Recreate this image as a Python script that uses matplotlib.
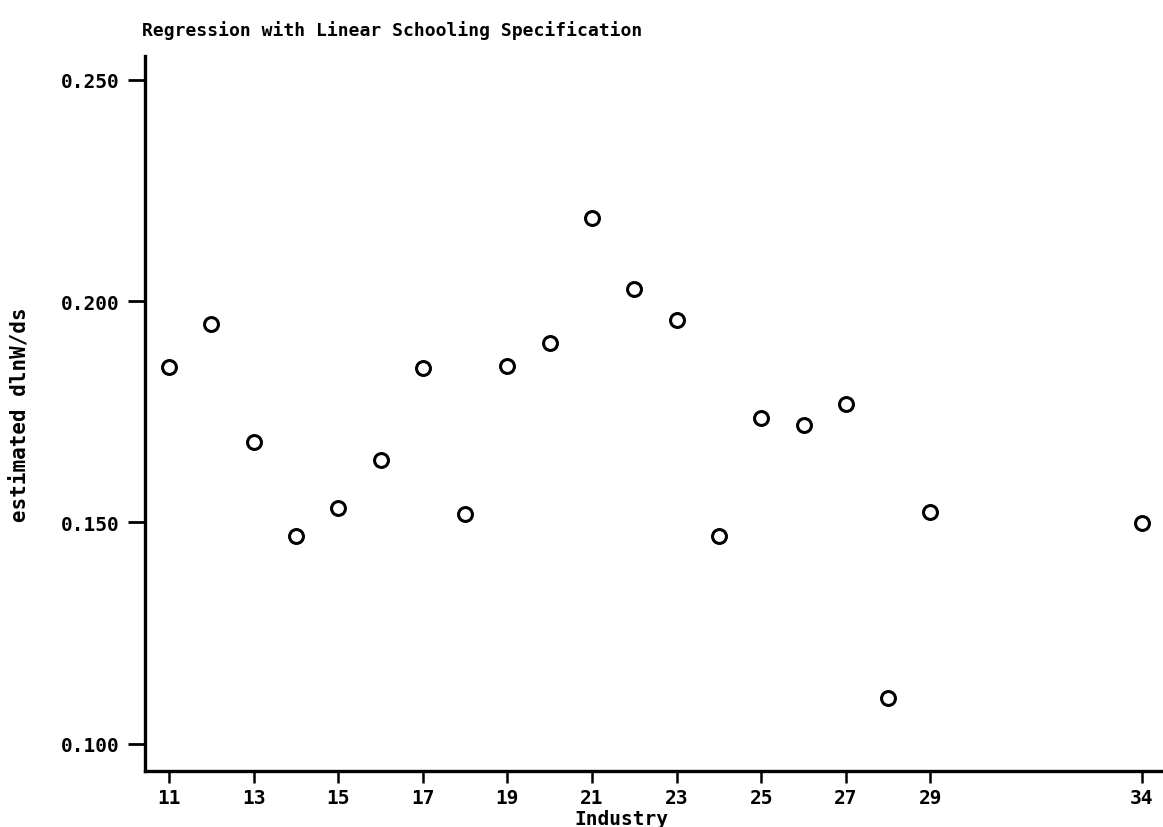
import matplotlib
matplotlib.use("Agg")
import matplotlib.pyplot as plt

# industry codes and estimated return to schooling (dlnW/ds)
industry = [11, 12, 13, 14, 15, 16, 17, 18, 19, 20,
            21, 22, 23, 24, 25, 26, 27, 28, 29, 34]
dlnw_ds = [0.1851, 0.1948, 0.1682, 0.1469, 0.1532, 0.1641, 0.1849, 0.1519, 0.1853, 0.1905,
           0.2188, 0.2027, 0.1957, 0.1469, 0.1736, 0.1720, 0.1767, 0.1103, 0.1523, 0.1498]

xtick_vals = [11, 13, 15, 17, 19, 21, 23, 25, 27, 29, 34]
ytick_vals = [0.100, 0.150, 0.200, 0.250]
ytick_labels = ["0.100", "0.150", "0.200", "0.250"]

title = "Regression with Linear Schooling Specification"
xlab = "Industry"
ylab = "estimated dlnW/ds"

FONT = "DejaVu Sans Mono"

fig = plt.figure(figsize=(11.63, 8.28), dpi=100)
ax = fig.add_axes([0.1247, 0.0676, 0.8753, 0.8636])

ax.plot(industry, dlnw_ds, linestyle="none", marker="o", markersize=10,
        markerfacecolor="none", markeredgecolor="black", markeredgewidth=2.2)

ax.set_xlim(10.43, 34.5)
ax.set_ylim(0.0938, 0.2554)

for side in ("top", "right"):
    ax.spines[side].set_visible(False)
for side in ("left", "bottom"):
    ax.spines[side].set_linewidth(2.4)
    ax.spines[side].set_color("black")

ax.set_xticks(xtick_vals)
ax.set_xticklabels([str(v) for v in xtick_vals])
ax.set_yticks(ytick_vals)
ax.set_yticklabels(ytick_labels)

ax.tick_params(axis="x", direction="out", length=8.5, width=1.8, pad=3.5,
               labelsize=14)
ax.tick_params(axis="y", direction="out", length=12, width=2.0, pad=6.5,
               labelsize=14)
for lbl in ax.get_xticklabels() + ax.get_yticklabels():
    lbl.set_family(FONT)
    lbl.set_fontweight("bold")

fig.text(142 / 1163, 1 - 36 / 828, title, family=FONT, fontweight="bold",
         fontsize=13, ha="left", va="baseline")
fig.text(20 / 1163, 1 - 415 / 828, ylab, family=FONT, fontweight="bold",
         fontsize=15, rotation=90, ha="center", va="center")
fig.text(621 / 1163, 1 - 810 / 828, xlab, family=FONT, fontweight="bold",
         fontsize=14, ha="center", va="top")

fig.savefig("out.png", dpi=100, facecolor="white")
